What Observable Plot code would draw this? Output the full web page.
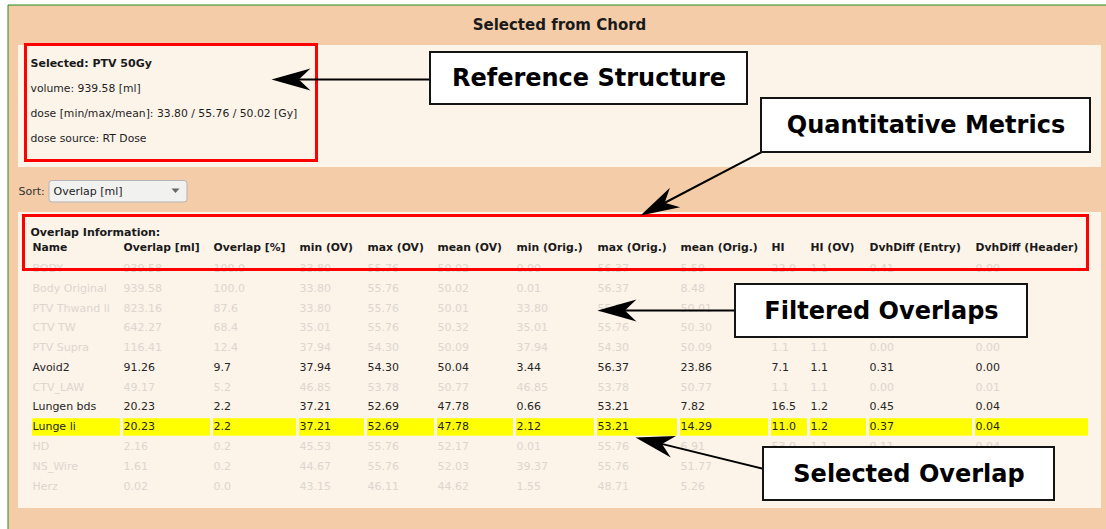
<!DOCTYPE html>
<html>
<head>
<meta charset="utf-8">
<script src="https://cdn.jsdelivr.net/npm/d3@7"></script>
<script src="https://cdn.jsdelivr.net/npm/@observablehq/plot@0.6"></script>
<style>
  html, body { margin: 0; padding: 0; background: #ffffff; overflow: hidden; }
  #chart svg { display: block; }
</style>
</head>
<body>
<div id="chart"></div>
<script>
// ---------------- DATA ----------------
const panelTitle = "Selected from Chord";
const refName = "PTV 50Gy";
const refVolume = 939.58;
const refDose = [33.80, 55.76, 50.02];
const refSource = "RT Dose";
const sortLabel = "Sort:";
const sortValue = "Overlap [ml]";
const tableTitle = "Overlap Information:";

const columns = ["Name", "Overlap [ml]", "Overlap [%]", "min (OV)", "max (OV)", "mean (OV)",
  "min (Orig.)", "max (Orig.)", "mean (Orig.)", "HI", "HI (OV)", "DvhDiff (Entry)", "DvhDiff (Header)"];

// null = value hidden behind an annotation in the reference (not readable)
const rowNames  = ["BODY", "Body Original", "PTV Thwand li", "CTV TW", "PTV Supra", "Avoid2",
  "CTV_LAW", "Lungen bds", "Lunge li", "HD", "NS_Wire", "Herz"];
const overlapMl = [939.58, 939.58, 823.16, 642.27, 116.41, 91.26, 49.17, 20.23, 20.23, 2.16, 1.61, 0.02];
const overlapPct = [100.0, 100.0, 87.6, 68.4, 12.4, 9.7, 5.2, 2.2, 2.2, 0.2, 0.2, 0.0];
const minOV     = [33.80, 33.80, 33.80, 35.01, 37.94, 37.94, 46.85, 37.21, 37.21, 45.53, 44.67, 43.15];
const maxOV     = [55.76, 55.76, 55.76, 55.76, 54.30, 54.30, 53.78, 52.69, 52.69, 55.76, 55.76, 46.11];
const meanOV    = [50.02, 50.02, 50.01, 50.32, 50.09, 50.04, 50.77, 47.78, 47.78, 52.17, 52.03, 44.62];
const minOrig   = [0.00, 0.01, 33.80, 35.01, 37.94, 3.44, 46.85, 0.66, 2.12, 0.01, 39.37, 1.55];
const maxOrig   = [56.37, 56.37, 55.76, 55.76, 54.30, 56.37, 53.78, 53.21, 53.21, 55.76, 55.76, 48.71];
const meanOrig  = [5.59, 8.48, 50.01, 50.30, 50.09, 23.86, 50.77, 7.82, 14.29, 6.91, 51.77, 5.26];
const hi        = [22.0, null, null, null, 1.1, 7.1, 1.1, 16.5, 11.0, 53.0, null, null];
const hiOV      = [1.1, null, null, null, 1.1, 1.1, 1.1, 1.2, 1.2, 1.1, null, null];
const dvhEntry  = [0.41, null, null, null, 0.00, 0.31, 0.00, 0.45, 0.37, 0.11, null, null];
const dvhHeader = [0.00, null, null, null, 0.00, 0.00, 0.01, 0.04, 0.04, 0.04, null, null];
const colDecimals = [null, 2, 1, 2, 2, 2, 2, 2, 2, 1, 1, 2, 2];

const activeRows = ["Avoid2", "Lungen bds", "Lunge li"];
const selectedRow = "Lunge li";

const annotationLabels = ["Reference Structure", "Quantitative Metrics", "Filtered Overlaps", "Selected Overlap"];

// ---------------- LAYOUT ----------------
const W = 1106, H = 529;
const FONT = "DejaVu Sans, Verdana, sans-serif";
const colX = [32, 123, 213, 299, 367, 437, 516, 597, 680, 771, 810, 869, 975];
const tableRight = 1088;
const rowScale = Plot.scale({y: {type: "point", domain: rowNames, range: [268, 485.5], padding: 0}});
const rowY = name => rowScale.apply(name);
const headerY = 247, tableTitleY = 232;

const outerPanel = [{x1: 8, x2: W, y1: 5, y2: H}];
const innerPanels = [{x1: 18, x2: 1101, y1: 45, y2: 167}, {x1: 18, x2: 1101, y1: 212, y2: 508}];
const frameLines = [{x1: 7.5, y1: 4.5, x2: W, y2: 4.5}, {x1: 7.5, y1: 4.5, x2: 7.5, y2: H}];
const redBoxes = [{x1: 25.5, x2: 316.5, y1: 44.5, y2: 160.5}, {x1: 23.5, x2: 1087.5, y1: 215.5, y2: 269.5}];
const dropdown = [{x1: 49, x2: 187, y1: 180.5, y2: 202}];

const refLines = [
  {text: `volume: ${refVolume.toFixed(2)} [ml]`, y: 88},
  {text: `dose [min/max/mean]: ${refDose.map(d => d.toFixed(2)).join(" / ")} [Gy]`, y: 113},
  {text: `dose source: ${refSource}`, y: 138}
];

const annotBoxes = [
  {x1: 430, x2: 747, y1: 52, y2: 104, tail: [431, 79], tip: [271, 79]},
  {x1: 761, x2: 1090, y1: 98, y2: 152, tail: [764, 150], tip: [640, 215]},
  {x1: 735, x2: 1027, y1: 284, y2: 337, tail: [736, 310], tip: [597, 310]},
  {x1: 763, x2: 1054, y1: 447, y2: 500, tail: [774, 471], tip: [635, 437]}
].map((d, i) => ({...d, label: annotationLabels[i]}));

// ---------------- BUILD ----------------
const colValues = [rowNames, overlapMl, overlapPct, minOV, maxOV, meanOV, minOrig, maxOrig, meanOrig, hi, hiOV, dvhEntry, dvhHeader];
const cells = [];
rowNames.forEach((name, r) => {
  colValues.forEach((vals, c) => {
    const v = vals[r];
    if (v == null) return;
    cells.push({
      row: name, col: c,
      text: typeof v === "number" ? v.toFixed(colDecimals[c]) : v,
      active: activeRows.includes(name)
    });
  });
});
const headers = columns.map((c, i) => ({text: c, col: i}));
const selCells = columns.map((c, i) => ({
  col: i,
  x1: colX[i],
  x2: i < columns.length - 1 ? colX[i + 1] - 3 : tableRight,
  row: selectedRow
}));

function stealth(angle) {
  const L = 39, Wd = 22, N = 0.7;
  const pts = [[0, 0], [-L, -Wd / 2], [-L * N, 0], [-L, Wd / 2]];
  const c = Math.cos(angle), s = Math.sin(angle);
  const rp = pts.map(([x, y]) => [x * c - y * s, x * s + y * c]);
  return {
    draw(ctx) {
      ctx.moveTo(rp[0][0], rp[0][1]);
      for (let k = 1; k < rp.length; k++) ctx.lineTo(rp[k][0], rp[k][1]);
      ctx.closePath();
    }
  };
}
const downTri = {
  draw(ctx) { ctx.moveTo(-4, -2); ctx.lineTo(4, -2); ctx.lineTo(0, 2.5); ctx.closePath(); }
};

const arrowHeadMarks = annotBoxes.map(d => {
  const ang = Math.atan2(d.tip[1] - d.tail[1], d.tip[0] - d.tail[0]);
  return Plot.dot([d], {x: e => e.tip[0], y: e => e.tip[1], r: 1, symbol: stealth(ang), fill: "#000", stroke: "none"});
});

const chart = Plot.plot({
  width: W,
  height: H,
  margin: 0,
  x: {domain: [0, W], range: [0, W], axis: null},
  y: {domain: [0, H], range: [0, H], axis: null},
  style: {fontFamily: FONT, background: "#ffffff", overflow: "hidden"},
  marks: [
    Plot.rect(outerPanel, {x1: "x1", x2: "x2", y1: "y1", y2: "y2", fill: "#F4CDA8"}),
    Plot.link(frameLines, {x1: "x1", y1: "y1", x2: "x2", y2: "y2", stroke: "#1c8c1c", strokeWidth: 1}),
    Plot.rect(innerPanels, {x1: "x1", x2: "x2", y1: "y1", y2: "y2", fill: "#FCF3E9"}),
    Plot.text([panelTitle], {x: 559, y: 25, text: d => d, fontSize: 15, fontWeight: "bold", fill: "#1a1a1a", fontFamily: FONT}),
    Plot.text([`Selected: ${refName}`], {x: 30, y: 63, text: d => d, textAnchor: "start", fontSize: 11, fontWeight: "bold", fill: "#1a1a1a", fontFamily: FONT}),
    Plot.text(refLines, {x: 30, y: "y", text: "text", textAnchor: "start", fontSize: 10.8, fontFamily: FONT, fill: "#1e1e1e"}),
    // sort control
    Plot.text([sortLabel], {x: 18, y: 191, text: d => d, textAnchor: "start", fontSize: 11, fill: "#333", fontFamily: FONT}),
    Plot.rect(dropdown, {x1: "x1", x2: "x2", y1: "y1", y2: "y2", rx: 3, fill: "#F1F1F0", stroke: "#B3B3B3", strokeWidth: 1}),
    Plot.text([sortValue], {x: 53, y: 191, text: d => d, textAnchor: "start", fontSize: 11, fill: "#222", fontFamily: FONT}),
    Plot.dot([0], {x: 175, y: 190, r: 1, symbol: downTri, fill: "#666", stroke: "none"}),
    // table
    Plot.rect(selCells, {x1: "x1", x2: "x2", y1: d => rowY(d.row) - 8, y2: d => rowY(d.row) + 9.5, fill: "#FFFF00"}),
    Plot.text([tableTitle], {x: 30, y: tableTitleY, text: d => d, textAnchor: "start", fontSize: 11, fontWeight: "bold", fill: "#1a1a1a", fontFamily: FONT}),
    Plot.text(headers, {x: d => colX[d.col], y: headerY, text: "text", textAnchor: "start", fontSize: 10.8, fontWeight: "bold", fill: "#1a1a1a", fontFamily: FONT}),
    Plot.text(cells.filter(d => !d.active), {x: d => colX[d.col], y: d => rowY(d.row), text: "text", textAnchor: "start", fontSize: 11, fill: "#DDD6CF", fontFamily: FONT}),
    Plot.text(cells.filter(d => d.active), {x: d => colX[d.col], y: d => rowY(d.row), text: "text", textAnchor: "start", fontSize: 11, fill: "#262626", fontFamily: FONT}),
    // red highlight boxes
    Plot.rect(redBoxes, {x1: "x1", x2: "x2", y1: "y1", y2: "y2", fill: "none", stroke: "#FF0000", strokeWidth: 3}),
    // annotation arrows
    Plot.link(annotBoxes, {x1: d => d.tail[0], y1: d => d.tail[1], x2: d => d.tip[0] + (d.tail[0] - d.tip[0]) * 0.1, y2: d => d.tip[1] + (d.tail[1] - d.tip[1]) * 0.1, stroke: "#000", strokeWidth: 2}),
    ...arrowHeadMarks,
    Plot.rect(annotBoxes, {x1: "x1", x2: "x2", y1: "y1", y2: "y2", fill: "#ffffff", stroke: "#141414", strokeWidth: 2}),
    Plot.text(annotBoxes, {x: d => (d.x1 + d.x2) / 2, y: d => (d.y1 + d.y2) / 2, text: "label", fontSize: 24, fontWeight: "bold", fill: "#000", fontFamily: FONT})
  ]
});
document.getElementById("chart").appendChild(chart);
</script>
</body>
</html>
